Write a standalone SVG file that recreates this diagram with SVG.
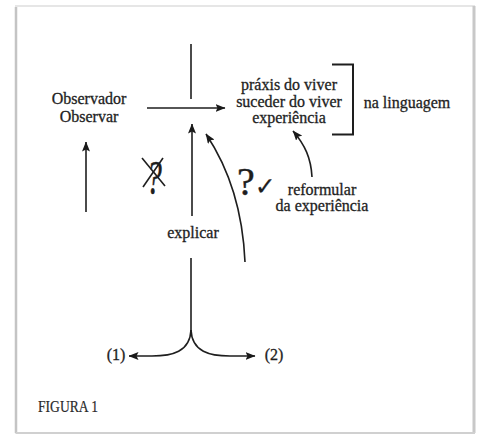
<svg xmlns="http://www.w3.org/2000/svg" width="480" height="436" viewBox="0 0 480 436">
  <defs>
    <marker id="ah" markerWidth="10" markerHeight="8" refX="9.5" refY="4" orient="auto" markerUnits="userSpaceOnUse">
      <path d="M0,0 L10,4 L0,8 L2,4 z" fill="#1a1a1a"/>
    </marker>
  </defs>
  <style>
    .t { font-family: "Liberation Serif", "Times New Roman", serif; font-size: 16px; fill: #1e1e1e; stroke: #1e1e1e; stroke-width: 0.3; text-anchor: middle; }
    .q { font-family: "Liberation Serif", "Times New Roman", serif; fill: #1e1e1e; stroke: #1e1e1e; stroke-width: 0.4; }
    .ln { stroke: #1e1e1e; stroke-width: 1.6; fill: none; }
    .ar { stroke: #1e1e1e; stroke-width: 1.6; fill: none; marker-end: url(#ah); }
  </style>
  <rect width="480" height="436" fill="#ffffff"/>
  <g id="frame">
    <rect x="16" y="6" width="458" height="427" fill="#ffffff" stroke="#e6e6e6" stroke-width="2"/>
    <line x1="16" y1="7" x2="16" y2="433" stroke="#c4c4c4" stroke-width="2.5"/>
    <line x1="474" y1="6" x2="474" y2="433" stroke="#c8c8c8" stroke-width="3"/>
    <line x1="16" y1="433" x2="475" y2="433" stroke="#d0d0d0" stroke-width="2"/>
  </g>
  <g id="observador">
    <text class="t" x="89" y="104">Observador</text>
    <text class="t" x="89" y="122">Observar</text>
  </g>
  <g id="pratica">
    <text class="t" x="289" y="90">práxis do viver</text>
    <text class="t" x="289" y="107">suceder do viver</text>
    <text class="t" x="289" y="123">experiência</text>
  </g>
  <g id="linguagem">
    <path d="M332,64.5 L353,64.5 L353,134.5 L332,134.5" fill="none" stroke="#1e1e1e" stroke-width="2"/>
    <text class="t" x="407" y="108">na linguagem</text>
  </g>
  <g id="explicar">
    <text class="t" x="193" y="238">explicar</text>
  </g>
  <g id="reformular">
    <text class="t" x="322" y="195">reformular</text>
    <text class="t" x="322" y="211">da experiência</text>
  </g>
  <g id="op1">
    <text class="t" x="116" y="360">(1)</text>
  </g>
  <g id="op2">
    <text class="t" x="274" y="360">(2)</text>
  </g>
  <g id="figura">
    <text x="38" y="412" font-family="Liberation Serif, Times New Roman, serif" font-size="17" fill="#2a2a2a" stroke="#2a2a2a" stroke-width="0.2" textLength="60" lengthAdjust="spacingAndGlyphs">FIGURA 1</text>
  </g>
  <g id="marks">
    <text class="q" transform="translate(154,194) scale(0.65,1)" font-size="48" font-style="italic" text-anchor="middle">?</text>
    <line x1="142" y1="158" x2="165" y2="186" class="ln"/>
    <line x1="163" y1="158" x2="143" y2="187" class="ln"/>
    <text class="q" x="237" y="195"><tspan font-size="40">?</tspan><tspan font-family="DejaVu Sans, sans-serif" font-size="25" stroke-width="0.2">✓</tspan></text>
  </g>
  <g id="connectors">
    <line class="ln" x1="191" y1="44" x2="191" y2="99"/>
    <line class="ar" x1="147" y1="108" x2="225" y2="108"/>
    <line class="ar" x1="86" y1="212" x2="86" y2="142"/>
    <line class="ar" x1="192" y1="216" x2="192" y2="124"/>
    <path class="ar" d="M245,262 C243,215 230,170 206,134"/>
    <path class="ar" d="M312,177 C311,158 305,145 293,131"/>
    <line class="ln" x1="191" y1="258" x2="191" y2="334"/>
    <path class="ar" d="M191,330 C190,352 172,356 152,356 L129,356"/>
    <path class="ar" d="M191,330 C192,352 210,356 230,356 L255,356"/>
  </g>
</svg>
